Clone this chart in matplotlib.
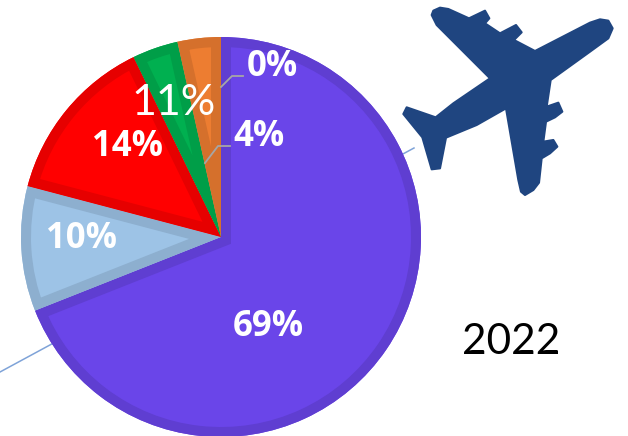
"""Pie chart of shares for 2022 with a plane icon"""
import matplotlib
matplotlib.use('Agg')
import matplotlib.pyplot as plt
from matplotlib.patches import Polygon, Wedge

plt.rcParams['font.family'] = ['Lato', 'DejaVu Sans']

# slice shares, clockwise from the top
shares = [69.0, 10.1, 13.7, 3.7, 3.5, 0.0]
fill_colors = ['#6A45E9', '#9DC3E6', '#FF0000', '#00B050', '#ED7D31', '#A5A5A5']
edge_colors = ['#5F3ED1', '#8DAFCF', '#E60000', '#009E48', '#D5702C', '#959595']
year_label = '2022'
extra_label = '11%'

W, H = 628, 436
CENTER = (221, H - 237)
RADIUS = 200
BORDER_PX = 10

# outline of the plane, in pixels from the icon's own corner
plane_outline = [
    (125, 45), (130, 32), (150, 23), (175, 27), (237, 55), (285, 32), (298, 55),
    (285, 70), (330, 100), (378, 75), (395, 97), (372, 120), (435, 153), (600, 68),
    (630, 58), (655, 62), (668, 85), (655, 115), (600, 155), (482, 240), (470, 320),
    (505, 308), (517, 335), (495, 352), (468, 365), (460, 425), (490, 420), (502, 440),
    (480, 460), (455, 475), (447, 548), (430, 570), (405, 585), (393, 575), (385, 540),
    (348, 325), (260, 375), (168, 413), (150, 505), (125, 508), (97, 412), (40, 342),
    (50, 322), (137, 352), (190, 310), (300, 235), (140, 75),
]


def px(x, y):
    return (x, H - y)


fig = plt.figure(figsize=(W / 100, H / 100), dpi=100)
ax = fig.add_axes([0, 0, 1, 1])

# thin line running behind the pie
p0, p1 = px(0, 372), px(414, 148)
ax.plot([p0[0], p1[0]], [p0[1], p1[1]], color='#7FA3D8', lw=1.1, zorder=1)

wedges, _ = ax.pie(shares, colors=fill_colors, startangle=90, counterclock=False,
                   center=CENTER, radius=RADIUS, normalize=True, frame=True,
                   wedgeprops=dict(linewidth=0, zorder=2))

# darker band inside each slice: a wide stroke clipped to the slice itself
for wedge, edge in zip(wedges, edge_colors):
    band = Wedge(wedge.center, wedge.r, wedge.theta1, wedge.theta2, facecolor='none',
                 edgecolor=edge, linewidth=2 * BORDER_PX * 0.72, joinstyle='miter', zorder=3)
    ax.add_patch(band)
    band.set_clip_path(wedge)

ax.set_xlim(0, W)
ax.set_ylim(0, H)
ax.set_aspect('auto')
ax.axis('off')

# value labels
label_spots = [(268, 323), (82, 235), (127, 143), None, (259, 132), (272, 63)]
for share, spot in zip(shares, label_spots):
    if spot is None:
        continue
    x, y = px(*spot)
    ax.text(x, y, f'{share:.0f}%', color='white', fontsize=25, fontweight='bold',
            family=['Open Sans', 'DejaVu Sans'], ha='center', va='center_baseline', zorder=6)

x, y = px(174, 103)
ax.text(x, y, extra_label, color='white', fontsize=31, ha='center', va='center', zorder=6)

# leader lines for the two small slices
for line in ([(221, 87), (232, 76), (243, 76)], [(205, 163), (218, 146), (230, 146)]):
    pts = [px(*p) for p in line]
    ax.plot([p[0] for p in pts], [p[1] for p in pts], color='#A6A6A6', lw=1.3, zorder=5)

# plane icon
plane_pts = [px(390 + a / 3, b / 3) for a, b in plane_outline]
ax.add_patch(Polygon(plane_pts, closed=True, facecolor='#1F4580', edgecolor='#1F4580',
                     linewidth=1.5, joinstyle='round', zorder=4))

x, y = px(511, 342)
ax.text(x, y, year_label, color='black', fontsize=30.5, ha='center', va='center', zorder=6)

fig.savefig('out.png', dpi=100, facecolor='white')
plt.close(fig)
